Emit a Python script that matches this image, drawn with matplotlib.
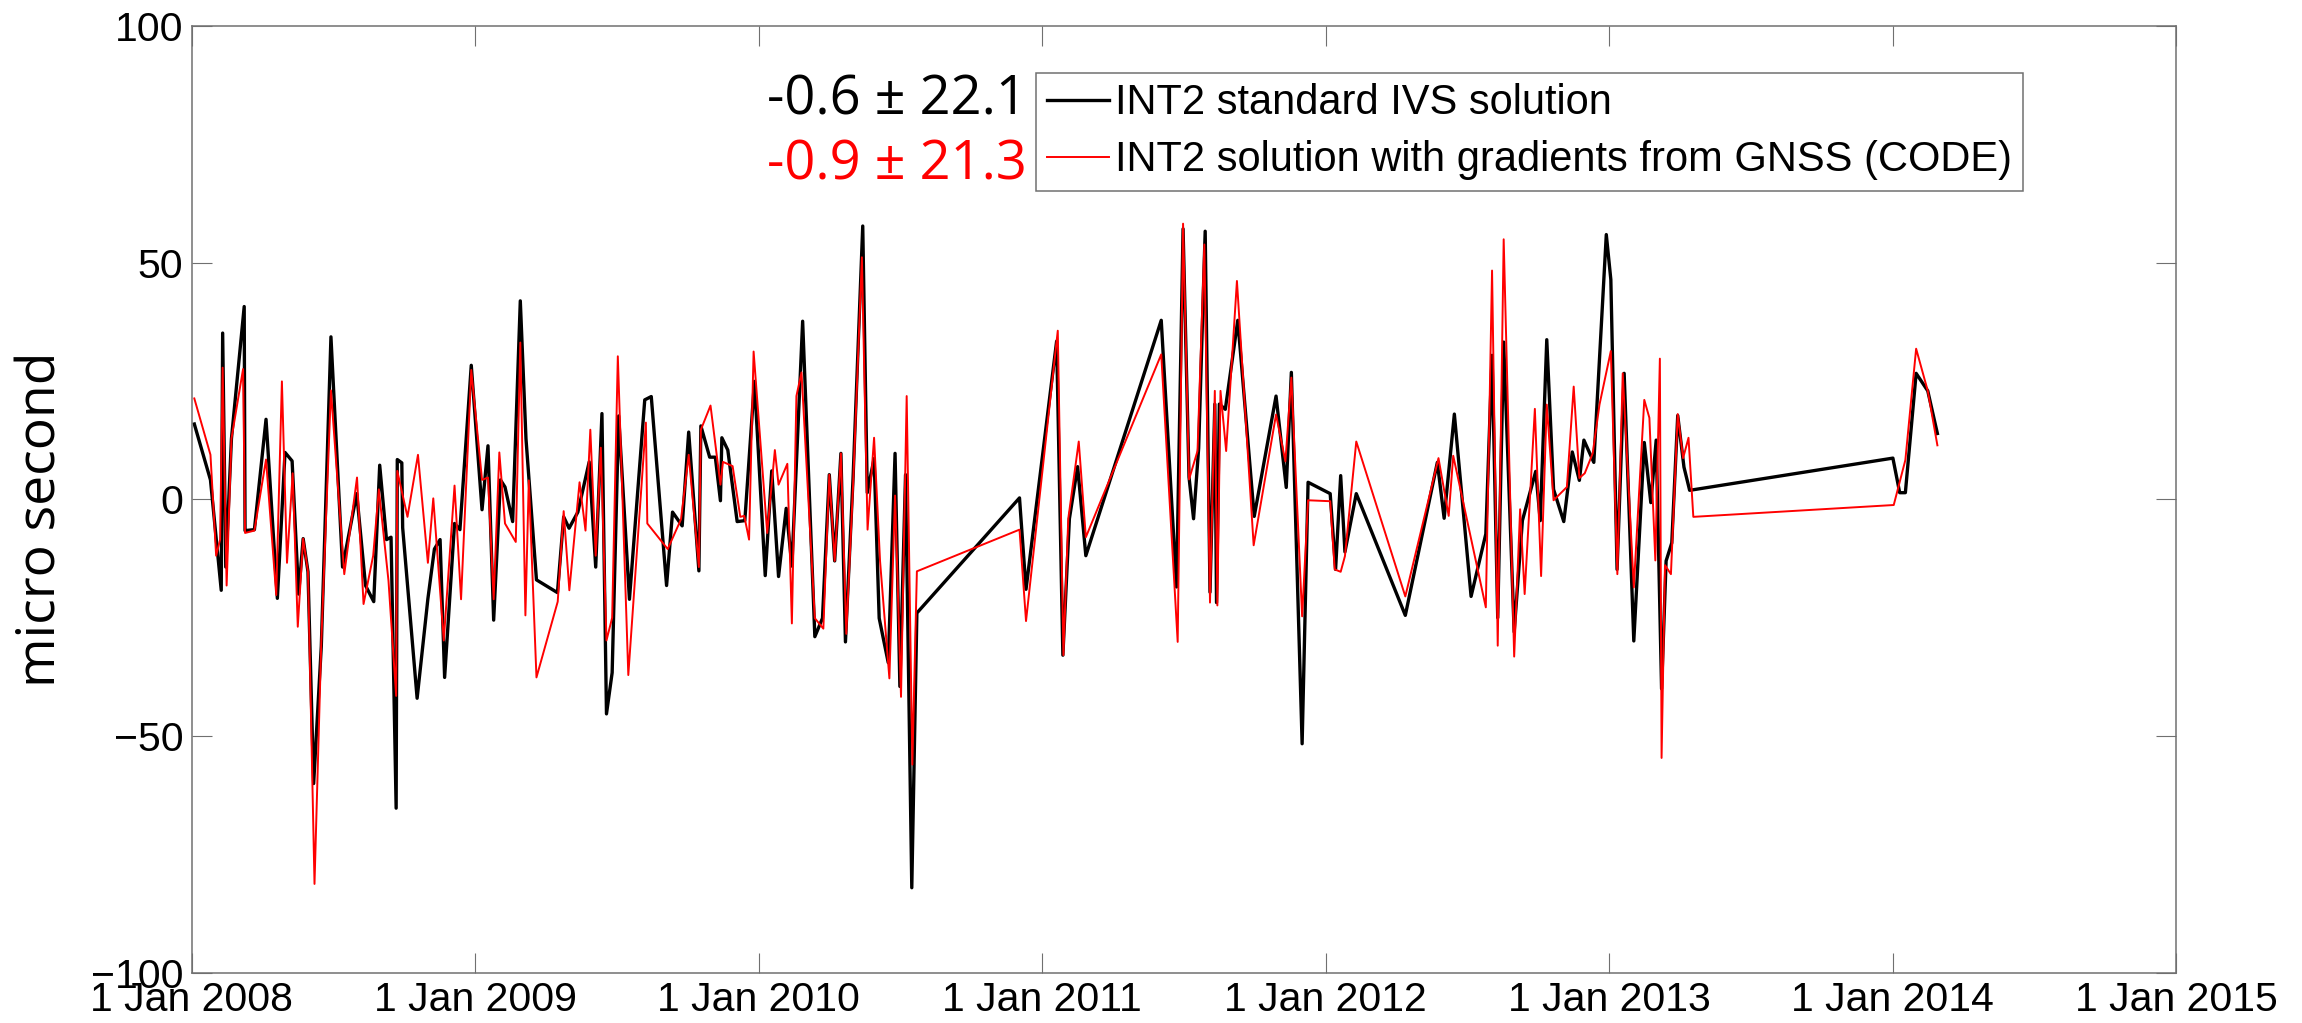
import numpy as np
import matplotlib.pyplot as plt

# -----------------------------
# DADOS (ano decimal, microssegundos)
# -----------------------------

t_std = [2008.009, 2008.066, 2008.104, 2008.109, 2008.120, 2008.140, 2008.185, 2008.188,
         2008.221, 2008.262, 2008.302, 2008.329, 2008.354, 2008.377, 2008.393, 2008.410,
         2008.430, 2008.457, 2008.491, 2008.532, 2008.582, 2008.613, 2008.642, 2008.663,
         2008.687, 2008.703, 2008.721, 2008.725, 2008.741, 2008.744, 2008.795, 2008.833,
         2008.856, 2008.876, 2008.892, 2008.927, 2008.946, 2008.986, 2009.024, 2009.045,
         2009.065, 2009.089, 2009.105, 2009.132, 2009.159, 2009.179, 2009.216, 2009.290,
         2009.312, 2009.331, 2009.362, 2009.386, 2009.402, 2009.425, 2009.447, 2009.463,
         2009.483, 2009.506, 2009.544, 2009.598, 2009.621, 2009.675, 2009.696, 2009.730,
         2009.753, 2009.789, 2009.796, 2009.827, 2009.847, 2009.865, 2009.870, 2009.891,
         2009.924, 2009.951, 2009.985, 2010.023, 2010.046, 2010.070, 2010.097, 2010.117,
         2010.155, 2010.198, 2010.225, 2010.249, 2010.268, 2010.290, 2010.306, 2010.333,
         2010.367, 2010.383, 2010.407, 2010.425, 2010.457, 2010.481, 2010.498, 2010.518,
         2010.540, 2010.558, 2010.920, 2010.943, 2011.051, 2011.073, 2011.096, 2011.125,
         2011.154, 2011.420, 2011.474, 2011.497, 2011.518, 2011.534, 2011.552, 2011.575,
         2011.592, 2011.609, 2011.615, 2011.625, 2011.646, 2011.690, 2011.748, 2011.825,
         2011.861, 2011.879, 2011.917, 2011.938, 2012.016, 2012.035, 2012.053, 2012.068,
         2012.108, 2012.281, 2012.394, 2012.418, 2012.454, 2012.513, 2012.565, 2012.587,
         2012.607, 2012.628, 2012.665, 2012.694, 2012.741, 2012.757, 2012.780, 2012.804,
         2012.840, 2012.870, 2012.895, 2012.911, 2012.946, 2012.990, 2013.006, 2013.028,
         2013.053, 2013.087, 2013.124, 2013.147, 2013.166, 2013.185, 2013.201, 2013.221,
         2013.242, 2013.264, 2013.284, 2014.001, 2014.025, 2014.045, 2014.083, 2014.124,
         2014.158]
v_std = [15.9, 4.1, -19.2, 35.1, -14.3, 12.8, 40.7, -6.6,
         -6.4, 16.9, -20.9, 9.9, 8.1, -20.0, -8.3, -15.3,
         -60.0, -31.0, 34.3, -14.3, 1.2, -18.2, -21.6, 7.2,
         -8.5, -8.0, -65.2, 8.4, 7.7, -6.0, -42.0, -21.0,
         -10.5, -8.5, -37.6, -5.1, -6.4, 28.3, -2.2, 11.3,
         -25.5, 4.1, 2.6, -4.7, 41.9, 12.8, -17.0, -19.7,
         -3.7, -6.1, -2.7, 3.6, 7.9, -14.3, 18.1, -45.3,
         -36.6, 17.6, -21.1, 21.0, 21.7, -18.2, -2.7, -5.6,
         14.2, -15.1, 15.5, 8.9, 8.9, -0.3, 13.0, 10.4,
         -4.7, -4.5, 24.9, -16.1, 6.0, -16.3, -1.9, -14.1,
         37.6, -29.0, -25.1, 5.2, -13.0, 9.7, -30.1, 4.7,
         57.7, 1.4, 8.6, -25.1, -34.5, 9.7, -39.5, 5.2,
         -82.0, -24.0, 0.3, -19.0, 33.4, -32.9, -4.1, 6.9,
         -11.9, 37.8, -18.5, 57.1, 4.7, -4.1, 10.8, 56.6,
         -19.6, 20.1, -21.8, 20.1, 19.0, 37.8, -3.6, 21.8,
         2.5, 26.8, -51.6, 3.6, 1.2, -14.8, 5.0, -11.1,
         1.2, -24.5, 7.8, -4.0, 18.0, -20.5, -7.3, 30.4,
         -25.0, 33.2, -28.0, -4.5, 5.9, -4.5, 33.7, 2.1,
         -4.7, 10.0, 4.0, 12.5, 7.8, 55.9, 46.4, -14.8,
         26.6, -29.9, 12.0, -0.7, 12.5, -40.0, -13.0, -9.2,
         17.7, 6.8, 1.9, 8.7, 1.4, 1.4, 26.6, 22.9,
         13.9]

t_gnss = [2008.009, 2008.066, 2008.086, 2008.100, 2008.109, 2008.123, 2008.140, 2008.181,
          2008.188, 2008.221, 2008.262, 2008.298, 2008.318, 2008.336, 2008.356, 2008.374,
          2008.393, 2008.410, 2008.433, 2008.457, 2008.491, 2008.538, 2008.583, 2008.606,
          2008.640, 2008.660, 2008.694, 2008.721, 2008.725, 2008.761, 2008.798, 2008.833,
          2008.852, 2008.889, 2008.927, 2008.950, 2008.986, 2009.024, 2009.045, 2009.065,
          2009.085, 2009.105, 2009.143, 2009.159, 2009.177, 2009.189, 2009.216, 2009.291,
          2009.312, 2009.332, 2009.368, 2009.389, 2009.406, 2009.425, 2009.443, 2009.463,
          2009.483, 2009.503, 2009.540, 2009.602, 2009.607, 2009.679, 2009.726, 2009.753,
          2009.789, 2009.796, 2009.830, 2009.865, 2009.874, 2009.908, 2009.935, 2009.949,
          2009.966, 2009.982, 2010.030, 2010.057, 2010.070, 2010.101, 2010.117, 2010.133,
          2010.151, 2010.198, 2010.228, 2010.249, 2010.268, 2010.290, 2010.309, 2010.333,
          2010.364, 2010.384, 2010.407, 2010.428, 2010.461, 2010.481, 2010.502, 2010.522,
          2010.542, 2010.558, 2010.920, 2010.943, 2011.055, 2011.075, 2011.092, 2011.129,
          2011.154, 2011.420, 2011.478, 2011.497, 2011.518, 2011.548, 2011.572, 2011.592,
          2011.609, 2011.618, 2011.629, 2011.649, 2011.687, 2011.746, 2011.825, 2011.858,
          2011.879, 2011.917, 2011.938, 2012.016, 2012.032, 2012.053, 2012.068, 2012.108,
          2012.281, 2012.398, 2012.434, 2012.450, 2012.565, 2012.587, 2012.607, 2012.628,
          2012.665, 2012.686, 2012.702, 2012.738, 2012.760, 2012.780, 2012.804, 2012.851,
          2012.875, 2012.895, 2012.914, 2012.942, 2012.966, 2013.006, 2013.029, 2013.048,
          2013.087, 2013.124, 2013.142, 2013.163, 2013.179, 2013.185, 2013.197, 2013.218,
          2013.242, 2013.261, 2013.280, 2013.297, 2014.004, 2014.045, 2014.083, 2014.124,
          2014.158]
v_gnss = [21.3, 9.4, -11.9, -8.5, 27.8, -18.2, 12.8, 27.5,
          -7.1, -6.6, 8.4, -20.2, 24.9, -13.4, 5.5, -26.9,
          -8.3, -15.3, -81.2, -30.0, 23.0, -15.8, 4.6, -22.1,
          -11.9, 2.1, -17.2, -41.5, 6.0, -3.7, 9.4, -13.4,
          0.2, -29.8, 2.9, -21.1, 27.3, 4.1, 4.6, -21.1,
          9.9, -5.1, -9.0, 33.1, -24.5, 4.0, -37.6, -21.6,
          -2.5, -19.2, 3.6, -6.6, 14.7, -11.9, 10.9, -29.8,
          -25.0, 30.2, -37.1, 16.2, -5.1, -10.5, -4.2, 9.4,
          -14.3, 14.7, 19.8, 3.1, 7.9, 7.0, -3.7, -3.5,
          -8.5, 31.2, -7.1, 10.4, 3.1, 7.5, -26.2, 21.8,
          26.8, -25.1, -27.3, 5.2, -13.0, 9.7, -28.4, 3.0,
          51.1, -6.4, 13.0, -13.0, -37.8, 0.8, -41.7, 21.8,
          -56.0, -15.2, -6.4, -25.7, 35.6, -32.9, -4.1, 12.2,
          -8.0, 30.6, -30.1, 58.2, 4.2, 10.2, 53.8, -21.8,
          22.9, -22.4, 22.9, 10.2, 46.1, -9.7, 17.9, 8.0,
          25.7, -24.7, -0.2, -0.4, -14.8, -15.3, -12.0, 12.2,
          -20.5, 8.7, -3.5, 9.2, -22.8, 48.3, -30.9, 54.9,
          -33.2, -2.1, -20.0, 19.1, -16.2, 20.0, -0.2, 2.6,
          23.8, 4.5, 5.5, 9.7, 20.0, 31.3, -15.8, 26.6,
          -18.6, 21.0, 17.2, -12.9, 29.7, -54.6, -13.9, -15.8,
          18.0, 8.7, 13.0, -3.7, -1.2, 8.3, 31.8, 22.9,
          11.4]

anos = [2008, 2009, 2010, 2011, 2012, 2013, 2014, 2015]
rotulos_x = ["1 Jan %d" % a for a in anos]
ticks_y = [-100, -50, 0, 50, 100]

stat_std = "-0.6 ± 22.1"
stat_gnss = "-0.9 ± 21.3"

# -----------------------------
# GRÁFICO
# -----------------------------

cinza = "#707070"
fig = plt.figure(figsize=(23.02, 10.23), dpi=100)
ax = fig.add_axes([0.0833, 0.0489, 0.8620, 0.9260])

ax.plot(t_std, v_std, color="black", lw=2.4, label="INT2 standard IVS solution")
ax.plot(t_gnss, v_gnss, color="red", lw=1.4,
        label="INT2 solution with gradients from GNSS (CODE)")

ax.set_xlim(2008, 2015)
ax.set_ylim(-100, 100)
ax.set_xticks(anos)
ax.set_xticklabels(rotulos_x)
ax.set_yticks(ticks_y)

for s in ax.spines.values():
    s.set_color(cinza)
    s.set_linewidth(1.1)
ax.tick_params(direction="in", length=14.4, width=0.8, color=cinza,
               top=True, right=True, labelsize=29.5, pad=6)
for lab in ax.get_xticklabels() + ax.get_yticklabels():
    lab.set_family("Liberation Sans")

leg = ax.legend(loc="upper left", bbox_to_anchor=(0.4255, 0.950),
                borderaxespad=0, fancybox=False, framealpha=1,
                edgecolor=cinza, handlelength=1.5, handletextpad=0.15,
                borderpad=0.25, labelspacing=0.4,
                prop={"family": "Liberation Sans", "size": 30})
leg.get_frame().set_linewidth(1.1)

fig.text(0.4461, 0.9022, stat_std, ha="right", va="center", color="black",
         family="Open Sans", fontsize=39)
fig.text(0.4461, 0.8387, stat_gnss, ha="right", va="center", color="red",
         family="Open Sans", fontsize=39)

fig.text(0.018, 0.492, "micro second", rotation=90, ha="center", va="center",
         family="Open Sans", fontsize=38.5)

fig.savefig("out.png", dpi=100)
